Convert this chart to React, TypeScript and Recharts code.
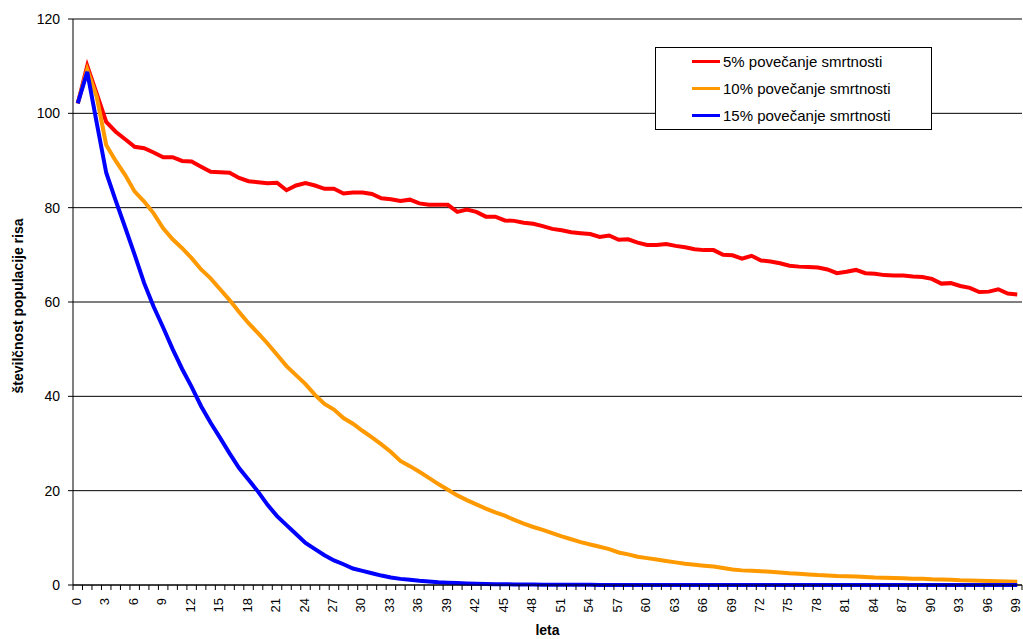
import React from "react";
import {
  LineChart,
  Line,
  XAxis,
  YAxis,
  CartesianGrid,
  Legend,
} from "recharts";

// leta (0–99)
const LETA = Array.from({ length: 100 }, (_, i) => i);

const SMRTNOST_5 = [
  102.1, 110.1, 104.2, 98.2, 96.1, 94.5, 92.9, 92.6, 91.7, 90.7,
  90.7, 89.9, 89.8, 88.7, 87.6, 87.5, 87.4, 86.3, 85.6, 85.4,
  85.2, 85.3, 83.7, 84.7, 85.2, 84.7, 84.0, 84.0, 83.0, 83.2,
  83.2, 82.9, 82.0, 81.8, 81.4, 81.7, 80.9, 80.6, 80.6, 80.6,
  79.1, 79.6, 79.1, 78.1, 78.1, 77.3, 77.2, 76.8, 76.6, 76.1,
  75.5, 75.2, 74.8, 74.6, 74.4, 73.8, 74.1, 73.2, 73.3, 72.6,
  72.1, 72.1, 72.3, 71.9, 71.6, 71.2, 71.0, 71.0, 70.0, 69.9,
  69.2, 69.8, 68.8, 68.6, 68.2, 67.7, 67.5, 67.4, 67.3, 66.9,
  66.1, 66.4, 66.8, 66.1, 66.0, 65.7, 65.6, 65.6, 65.4, 65.3,
  64.9, 63.9, 64.0, 63.4, 63.0, 62.1, 62.2, 62.7, 61.8, 61.6,
];

const SMRTNOST_10 = [
  102.1, 109.3, 103.5, 93.3, 89.9, 86.9, 83.4, 81.3, 78.8, 75.6,
  73.3, 71.4, 69.3, 66.9, 65.0, 62.7, 60.4, 57.9, 55.5, 53.4,
  51.2, 48.8, 46.4, 44.5, 42.6, 40.3, 38.4, 37.2, 35.4, 34.2,
  32.7, 31.3, 29.8, 28.2, 26.3, 25.2, 24.0, 22.7, 21.4, 20.2,
  19.0, 18.0, 17.1, 16.2, 15.4, 14.7, 13.8, 13.0, 12.3, 11.7,
  11.0, 10.3, 9.7, 9.1, 8.6, 8.1, 7.6, 6.9, 6.5, 6.0,
  5.7, 5.4, 5.1, 4.8, 4.5, 4.3, 4.1, 3.9, 3.6, 3.3,
  3.1, 3.0, 2.9, 2.8, 2.65, 2.5, 2.4, 2.25, 2.1, 2.0,
  1.9, 1.85, 1.8, 1.7, 1.6, 1.55, 1.5, 1.45, 1.35, 1.3,
  1.2, 1.15, 1.1, 1.0, 0.95, 0.9, 0.85, 0.8, 0.75, 0.7,
];

const SMRTNOST_15 = [
  102.1, 108.8, 98.0, 87.4, 81.5, 75.8, 70.0, 64.0, 59.0, 54.6,
  50.0, 45.8, 42.0, 37.9, 34.4, 31.2, 27.9, 24.8, 22.3, 19.8,
  17.0, 14.6, 12.7, 10.8, 8.9, 7.6, 6.3, 5.2, 4.4, 3.5,
  3.0, 2.5, 2.0, 1.6, 1.3, 1.1, 0.9, 0.75, 0.6, 0.5,
  0.4, 0.33, 0.27, 0.22, 0.18, 0.15, 0.12, 0.1, 0.08, 0.07,
  0.05, 0.04, 0.04, 0.03, 0.03, 0.02, 0.02, 0.02, 0.01, 0.01,
  0.01, 0.01, 0.01, 0.01, 0.01, 0.01, 0.01, 0.01, 0.01, 0.01,
  0, 0, 0, 0, 0, 0, 0, 0, 0, 0,
  0, 0, 0, 0, 0, 0, 0, 0, 0, 0,
  0, 0, 0, 0, 0, 0, 0, 0, 0, 0,
];

const Y_TICKS = [0, 20, 40, 60, 80, 100, 120];
// labels every third year
const X_LABEL_STEP = 3;

const SERIES = [
  { key: "s5", name: "5% povečanje smrtnosti", color: "#FF0000", values: SMRTNOST_5 },
  { key: "s10", name: "10% povečanje smrtnosti", color: "#FF9900", values: SMRTNOST_10 },
  { key: "s15", name: "15% povečanje smrtnosti", color: "#0000FF", values: SMRTNOST_15 },
];

const data = LETA.map((leto, i) => {
  const row: Record<string, number> = { leto };
  SERIES.forEach((s) => {
    row[s.key] = s.values[i];
  });
  return row;
});

// tick marks sit on the boundaries between years
const BOUNDARY_TICKS = [...LETA.map((l) => l - 0.5), LETA[LETA.length - 1] + 0.5];

const FONT = "'Liberation Sans', Arial, sans-serif";

function XTick(props: any) {
  const { x, y, payload, width } = props;
  const band = width / LETA.length;
  const leto = payload.value + 0.5;
  const lx = x + band / 2 - 1.5;
  const ly = y + 13;
  return (
    <g>
      <line x1={x} y1={y} x2={x} y2={y + 5} stroke="#000" strokeWidth={1} />
      {leto % X_LABEL_STEP === 0 && leto < LETA.length ? (
        <text
          x={lx}
          y={ly}
          transform={`rotate(-90, ${lx}, ${ly})`}
          textAnchor="end"
          dominantBaseline="central"
          fontSize={13}
          fontFamily={FONT}
          fill="#000"
        >
          {leto}
        </text>
      ) : null}
    </g>
  );
}

function YTitle(props: any) {
  const { viewBox } = props;
  const cx = viewBox.x + 18;
  const cy = viewBox.y + viewBox.height / 2 + 4;
  return (
    <text
      x={cx}
      y={cy}
      transform={`rotate(-90, ${cx}, ${cy})`}
      textAnchor="middle"
      dominantBaseline="central"
      fontSize={14}
      fontWeight="bold"
      fontFamily={FONT}
      fill="#000"
    >
      številčnost populacije risa
    </text>
  );
}

function LegendBox() {
  return (
    <div
      style={{
        boxSizing: "border-box",
        width: 277,
        height: 83,
        border: "1px solid #000",
        background: "#fff",
        fontFamily: FONT,
        fontSize: 15,
        color: "#000",
      }}
    >
      {SERIES.map((s) => (
        <div
          key={s.key}
          style={{ height: 27, display: "flex", alignItems: "center", paddingLeft: 36 }}
        >
          <span
            style={{ display: "inline-block", width: 28, height: 3, background: s.color, marginRight: 3 }}
          />
          <span style={{ whiteSpace: "nowrap" }}>{s.name}</span>
        </div>
      ))}
    </div>
  );
}

export default function App() {
  return (
    <div style={{ position: "absolute", left: 0, top: 0, background: "#fff" }}>
      <LineChart
        width={1023}
        height={639}
        data={data}
        margin={{ top: 19, right: 1, left: 0, bottom: 0 }}
        style={{ fontFamily: FONT }}
      >
        <CartesianGrid vertical={false} stroke="#000" strokeWidth={1} />
        <XAxis
          dataKey="leto"
          type="number"
          domain={[-0.5, 99.5]}
          ticks={BOUNDARY_TICKS}
          interval={0}
          tick={<XTick />}
          tickLine={false}
          tickSize={0}
          tickMargin={0}
          axisLine={{ stroke: "#000" }}
          height={54}
          label={{
            value: "leta",
            position: "insideBottom",
            offset: 4,
            fill: "#000",
            fontWeight: "bold",
            fontSize: 14,
            fontFamily: FONT,
          }}
        />
        <YAxis
          type="number"
          domain={[0, 120]}
          ticks={Y_TICKS}
          interval={0}
          width={73}
          tickSize={5}
          tickMargin={8}
          tickLine={{ stroke: "#000" }}
          axisLine={{ stroke: "#000" }}
          tick={{ fill: "#000", fontSize: 14, fontFamily: FONT }}
          label={<YTitle />}
        />
        <Legend
          layout="vertical"
          align="center"
          verticalAlign="middle"
          content={<LegendBox />}
          wrapperStyle={{ position: "absolute", left: 655, top: 47, width: 277, height: 83 }}
        />
        {SERIES.map((s) => (
          <Line
            key={s.key}
            type="linear"
            dataKey={s.key}
            name={s.name}
            stroke={s.color}
            strokeWidth={4}
            dot={false}
            activeDot={false}
            isAnimationActive={false}
          />
        ))}
      </LineChart>
    </div>
  );
}
